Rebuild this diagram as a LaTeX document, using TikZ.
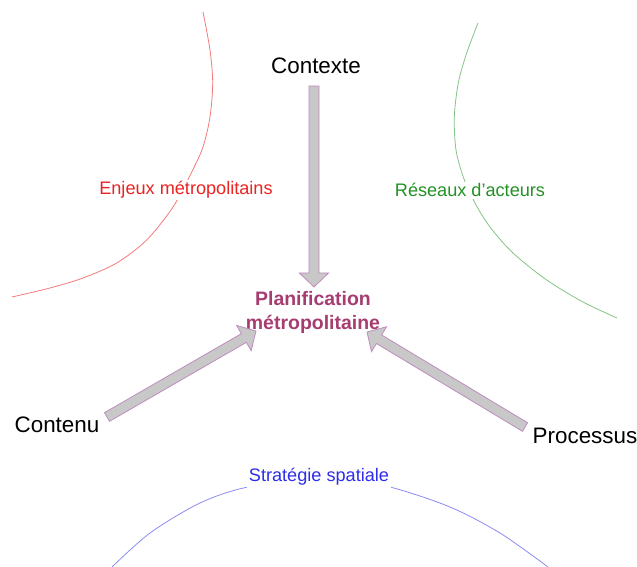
\documentclass[tikz,border=0pt]{standalone}
\usepackage{fontspec}
\setmainfont{Liberation Sans}
\usepackage{tikz}
\usetikzlibrary{calc, positioning}
\definecolor{plancol}{RGB}{166,60,112}
\definecolor{arrowgray}{RGB}{200,200,200}
\definecolor{arrowline}{RGB}{190,140,190}
\definecolor{enjcol}{RGB}{235,35,35}
\definecolor{rescol}{RGB}{35,145,35}
\definecolor{stracol}{RGB}{45,45,235}
\tikzstyle{pole}=[inner sep=0pt, anchor=base, font=\fontsize{16.8}{20}\selectfont]
\tikzstyle{lbl}=[inner sep=1pt, anchor=base, fill=white, font=\fontsize{13.6}{16}\selectfont]
\tikzstyle{bigarrow}=[fill=arrowgray, draw=arrowline, line width=0.6pt]
\tikzstyle{rim}=[line width=0.6pt]
\newcommand{\fatarrow}[2]{%
\coordinate (#1-h) at ($(#2)!10.5pt!(#1)$);
\draw[bigarrow] ($(#1)!3.75pt!90:(#2)$) -- ($(#1-h)!3.75pt!90:(#2)$) -- ($(#1-h)!10.9pt!90:(#2)$) -- (#2)
 -- ($(#1-h)!10.9pt!-90:(#2)$) -- ($(#1-h)!3.75pt!-90:(#2)$) -- ($(#1)!3.75pt!-90:(#2)$) -- cycle;}

\begin{document}
\begin{tikzpicture}[x=0.75pt, y=-0.75pt]
\useasboundingbox (0,0) rectangle (637,567);
\draw[rim, enjcol!60] plot[smooth] coordinates {(203,12) (210,50) (212.7,83) (210,117) (203,147) (191.7,172) (173,207) (146.7,240) (116.7,263) (83,278) (50,288) (12,297)};
\draw[rim, rescol!55] plot[smooth] coordinates {(478,23) (466.7,53) (458.3,83) (454.3,117) (456,150) (463.3,177) (475,203) (490,227) (513,253) (546.7,280) (583,302) (617,318)};
\draw[rim, stracol!55] plot[smooth] coordinates {(112,567) (150,533) (200,503) (248,487) (330,476) (390,487) (450,507) (500,533) (548,567)};

\node[pole] (ctx) at (316,74) {Contexte};
\node[pole] (cnt) at (57,432) {Contenu};
\node[pole] (prc) at (585,444) {Processus};
\node[inner sep=0pt, align=center, text=plancol, font=\bfseries\fontsize{14.6}{18}\selectfont] (plan) at (313,312) {Planification\\métropolitaine};

\node[lbl, text=enjcol] (enj) at (186,195) {Enjeux métropolitains};
\node[lbl, text=rescol] (res) at (470,197) {Réseaux d’acteurs};
\node[lbl, inner sep=1.5pt, text=stracol] (stra) at (319,482) {Stratégie spatiale};

\coordinate (ctx-a) at (314,86); \coordinate (plan-t) at (314,287);
\coordinate (cnt-a) at (107,417); \coordinate (plan-l) at (256,331);
\coordinate (prc-a) at (525,427); \coordinate (plan-r) at (367,332);
\fatarrow{ctx-a}{plan-t}
\fatarrow{cnt-a}{plan-l}
\fatarrow{prc-a}{plan-r}
\end{tikzpicture}
\end{document}
